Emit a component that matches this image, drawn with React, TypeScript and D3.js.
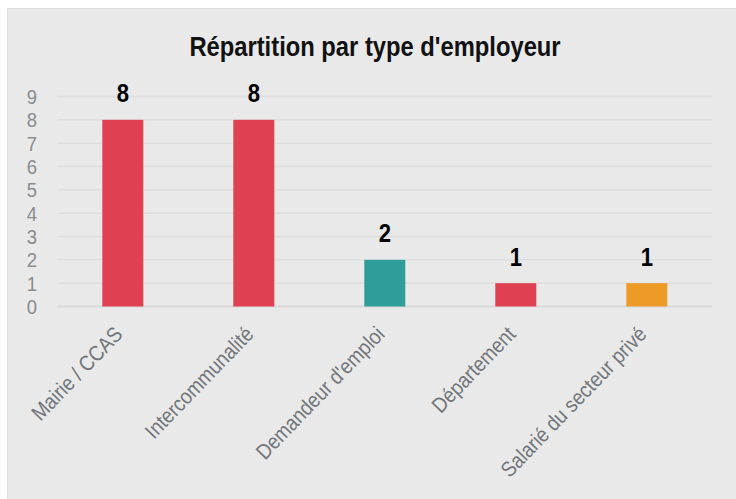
import React from "react";
import * as d3 from "d3";

const categories = ["Mairie / CCAS", "Intercommunalité", "Demandeur d'emploi", "Département", "Salarié du secteur privé"];
const values = [8, 8, 2, 1, 1];
const barColors = ["#df4152", "#df4152", "#2f9e9a", "#df4152", "#ee9a27"];
const yTicks = [0, 1, 2, 3, 4, 5, 6, 7, 8, 9];
const title = "Répartition par type d'employeur";

const W = 736;
const H = 499;
const FONT = "'Liberation Sans', Arial, sans-serif";

export default function App() {
  const left = 57.3;
  const right = 712.3;
  const y0 = 306.5;
  const y9 = 96.5;
  const x = d3.scaleBand<string>().domain(categories).range([left, right]).paddingInner(0.687).paddingOuter(0.3435);
  const y = d3.scaleLinear().domain([0, 9]).range([y0, y9]);
  return (
    <svg width={W} height={H} style={{ position: "absolute", left: 0, top: 0, display: "block" }}>
      <rect x={0} y={0} width={W} height={H} fill="#ffffff" />
      <rect x={7.5} y={8.5} width={W - 7} height={H - 8} fill="#e9e9e9" stroke="#dedede" strokeWidth={1} />
      <g transform="translate(375,55.5) scale(0.88,1)">
        <text x={0} y={0} textAnchor="middle" fontFamily={FONT} fontWeight="bold" fontSize={27} fill="#111">
          {title}
        </text>
      </g>
      {yTicks.map((t) => (
        <g key={t}>
          <line x1={left} x2={right} y1={y(t)} y2={y(t)} stroke={t === 0 ? "#d9d9d9" : "#dedede"} strokeWidth={t === 0 ? 2 : 1.5} />
          <g transform={`translate(37,${y(t)}) scale(0.88,1)`}>
            <text x={0} y={0} dy="0.36em" textAnchor="end" fontFamily={FONT} fontSize={21} fill="#8a8c8e">
              {t}
            </text>
          </g>
        </g>
      ))}
      {categories.map((c, i) => (
        <g key={c}>
          <rect x={x(c)} y={y(values[i])} width={x.bandwidth()} height={y0 - y(values[i])} fill={barColors[i]} />
          <g transform={`translate(${(x(c) as number) + x.bandwidth() / 2},${y(values[i]) - 17.5}) scale(0.85,1)`}>
            <text x={0} y={0} textAnchor="middle" fontFamily={FONT} fontWeight="bold" fontSize={26} fill="#000">
              {values[i]}
            </text>
          </g>
          <g transform={`translate(${(x(c) as number) + x.bandwidth() / 2 + 1},${y0 + 29}) rotate(-46) scale(0.88,1)`}>
            <text x={0} y={0} textAnchor="end" fontFamily={FONT} fontSize={21.5} fill="#72767a">
              {c}
            </text>
          </g>
        </g>
      ))}
    </svg>
  );
}
